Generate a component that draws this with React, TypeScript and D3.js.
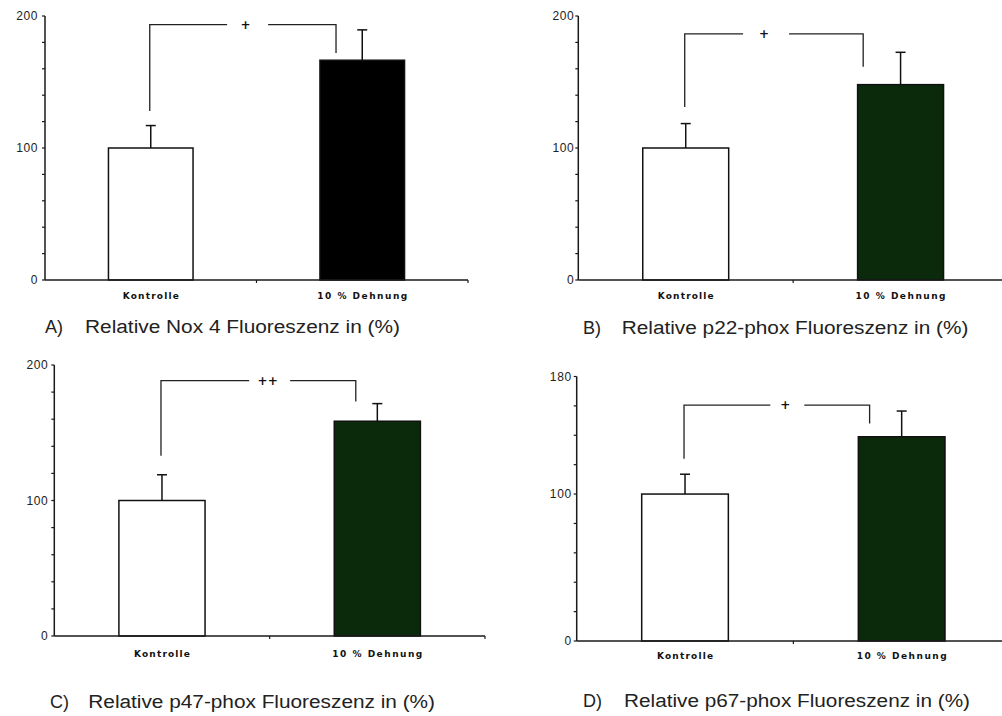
import React from "react";
import * as d3 from "d3";

// ---------- data ----------
const categories = ["Kontrolle", "10 % Dehnung"];
const panelLetters = ["A)", "B)", "C)", "D)"];
const panelTitles = [
  "Relative Nox 4 Fluoreszenz in (%)",
  "Relative p22-phox Fluoreszenz in (%)",
  "Relative p47-phox Fluoreszenz in (%)",
  "Relative p67-phox Fluoreszenz in (%)",
];
const kontrolleMean = [100, 100, 100, 100];
const kontrolleErr = [17, 18.5, 19, 13.5];
const dehnungMean = [166.5, 148, 158.5, 139];
const dehnungErr = [23, 24.5, 13, 17.5];
const yMaxValues = [200, 200, 200, 180];
const yLabelTicks = [
  [0, 100, 200],
  [0, 100, 200],
  [0, 100, 200],
  [0, 100, 180],
];
const yMinorStep = 20;
const sigLabels = ["+", "+", "++", "+"];
const bracketTop = [193.5, 186.5, 188.5, 160.5];
const bracketLeftBottom = [128, 131, 133, 124];
const bracketRightBottom = [172, 161.5, 173, 148];

// ---------- layout / style ----------
const layouts = [
  { ax: 45, xEnd: 468, y0: 280, yTop: 16, labelY: 299, capX: 45, capY: 333, titleX: 85, titleW: 315, rightFrac: 0.688, gapFrac: 0.479, gapW: 41, lblGap: 7 },
  { ax: 578.3, xEnd: 1008, y0: 280, yTop: 16, labelY: 299, capX: 583, capY: 334, titleX: 621.7, titleW: 346.7, rightFrac: 0.663, gapFrac: 0.437, gapW: 46, lblGap: 4 },
  { ax: 54.3, xEnd: 485, y0: 636, yTop: 365, labelY: 657, capX: 50, capY: 708, titleX: 88.3, titleW: 346.7, rightFrac: 0.7, gapFrac: 0.5, gapW: 41, lblGap: 6 },
  { ax: 576.7, xEnd: 1010, y0: 641, yTop: 376.5, labelY: 659, capX: 583, capY: 707, titleX: 624, titleW: 346, rightFrac: 0.676, gapFrac: 0.486, gapW: 34, lblGap: 5 },
];
const dehnungFill = ["#000000", "#0b290b", "#0b290b", "#0b290b"];
const axisColor = "#1a1a1a";
const labelWidths = [56, 90];

function Panel({ i }: { i: number }) {
  const L = layouts[i];
  const y = d3.scaleLinear().domain([0, yMaxValues[i]]).range([L.y0, L.yTop]);
  const x = d3.scaleBand<string>().domain(categories).range([L.ax, L.xEnd]).padding(0);
  const frac = d3.scaleLinear().domain([0, 1]).range([L.ax, L.xEnd]);
  const bw = x.bandwidth() * 0.4;
  const means = [kontrolleMean[i], dehnungMean[i]];
  const errs = [kontrolleErr[i], dehnungErr[i]];
  const fills = ["#ffffff", dehnungFill[i]];
  const minor = d3.range(0, yMaxValues[i] + 0.001, yMinorStep);
  const cx = (c: string) => (x(c) as number) + x.bandwidth() / 2;
  const leftX = cx(categories[0]) - 1;
  const rightX = frac(L.rightFrac);
  const gapC = frac(L.gapFrac);
  const topY = y(bracketTop[i]);
  return (
    <g>
      {/* bars */}
      {categories.map((c, k) => (
        <rect
          key={c}
          x={cx(c) - bw / 2}
          y={y(means[k])}
          width={bw}
          height={y(0) - y(means[k])}
          fill={fills[k]}
          stroke="#111"
          strokeWidth={1.5}
        />
      ))}
      {/* error bars */}
      {categories.map((c, k) => (
        <g key={"e" + c} stroke="#111" strokeWidth={1.5}>
          <line x1={cx(c)} x2={cx(c)} y1={y(means[k])} y2={y(means[k] + errs[k])} />
          <line x1={cx(c) - 5} x2={cx(c) + 5} y1={y(means[k] + errs[k])} y2={y(means[k] + errs[k])} />
        </g>
      ))}
      {/* y axis */}
      <line x1={L.ax} x2={L.ax} y1={y(0)} y2={y(yMaxValues[i])} stroke={axisColor} strokeWidth={1.5} />
      {minor.map((v) => (
        <line key={v} x1={L.ax - 3} x2={L.ax} y1={y(v)} y2={y(v)} stroke={axisColor} strokeWidth={1.2} />
      ))}
      {yLabelTicks[i].map((v) => (
        <text
          key={"t" + v}
          x={L.ax - L.lblGap}
          y={y(v)}
          dy="0.35em"
          textAnchor="end"
          fontFamily="Liberation Sans, Arial, sans-serif"
          fontSize={12}
          letterSpacing={0.6}
          fill="#222"
        >
          {v}
        </text>
      ))}
      {/* x axis */}
      <line x1={L.ax} x2={L.xEnd} y1={y(0)} y2={y(0)} stroke={axisColor} strokeWidth={1.5} />
      <line x1={frac(0.5)} x2={frac(0.5)} y1={y(0)} y2={y(0) + 3} stroke={axisColor} strokeWidth={1.2} />
      <line x1={L.xEnd} x2={L.xEnd} y1={y(0)} y2={y(0) + 3} stroke={axisColor} strokeWidth={1.2} />
      {categories.map((c, k) => (
        <text
          key={"x" + c}
          x={cx(c) - labelWidths[k] / 2}
          y={L.labelY}
          textLength={labelWidths[k]}
          lengthAdjust="spacing"
          fontFamily="DejaVu Sans, sans-serif"
          fontWeight="bold"
          fontSize={9}
          fill="#111"
        >
          {c}
        </text>
      ))}
      {/* significance bracket */}
      <g stroke="#222" strokeWidth={1.3} fill="none">
        <polyline points={`${leftX},${y(bracketLeftBottom[i])} ${leftX},${topY} ${gapC - L.gapW / 2},${topY}`} />
        <polyline points={`${gapC + L.gapW / 2},${topY} ${rightX},${topY} ${rightX},${y(bracketRightBottom[i])}`} />
      </g>
      <text
        x={gapC - 2}
        y={topY}
        dy="0.35em"
        textAnchor="middle"
        fontFamily="DejaVu Sans, sans-serif"
        fontWeight="bold"
        fontSize={12}
        fill="#111"
      >
        {sigLabels[i]}
      </text>
      {/* caption */}
      <text x={L.capX} y={L.capY} fontFamily="Liberation Sans, Arial, sans-serif" fontSize={18} fill="#222">
        {panelLetters[i]}
      </text>
      <text
        x={L.titleX}
        y={L.capY}
        textLength={L.titleW}
        lengthAdjust="spacingAndGlyphs"
        fontFamily="Liberation Sans, Arial, sans-serif"
        fontSize={18}
        fill="#222"
      >
        {panelTitles[i]}
      </text>
    </g>
  );
}

export default function App() {
  return (
    <svg
      width={1002}
      height={716}
      style={{ position: "absolute", left: 0, top: 0, background: "#fff" }}
    >
      <rect x={0} y={0} width={1002} height={716} fill="#fff" />
      {[0, 1, 2, 3].map((i) => (
        <Panel key={i} i={i} />
      ))}
    </svg>
  );
}
